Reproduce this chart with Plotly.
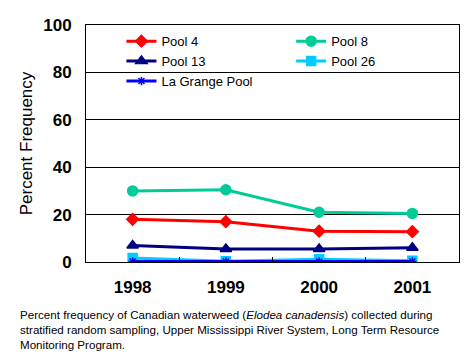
import plotly.graph_objects as go

years = ["1998", "1999", "2000", "2001"]
pool4 = [18.0, 17.0, 13.0, 12.8]
pool8 = [30.0, 30.5, 21.0, 20.5]
pool13 = [7.0, 5.5, 5.5, 6.0]
pool26 = [1.7, 0.3, 1.2, 0.5]
lagrange = [0.2, 0.2, 0.2, 0.2]

y_ticks = [0, 20, 40, 60, 80, 100]

series = [
    ("Pool 4", pool4, "#FF0000", "diamond", 9, "legend"),
    ("Pool 8", pool8, "#00CC99", "circle", 10, "legend2"),
    ("Pool 13", pool13, "#000080", "triangle-up", 10, "legend"),
    ("Pool 26", pool26, "#00CCFF", "square", 9, "legend2"),
    ("La Grange Pool", lagrange, "#0000FF", "asterisk-open", 7, "legend"),
]

fig = go.Figure()
for name, vals, color, sym, size, lg in series:
    fig.add_trace(go.Scatter(
        x=years, y=vals, name=name, mode="lines+markers",
        line=dict(color=color, width=3),
        marker=dict(symbol=sym, size=size, color=color,
                    line=dict(color=color, width=1.5)),
        legend=lg,
    ))

font = "Liberation Sans, Arial, sans-serif"
fig.update_layout(
    width=460, height=352,
    margin=dict(l=78, r=9, t=16.5, b=98, autoexpand=False),
    paper_bgcolor="white", plot_bgcolor="white",
    font=dict(family=font, color="black"),
    showlegend=True,
    legend=dict(x=0.095, y=0.995, xanchor="left", yanchor="top",
                bgcolor="rgba(0,0,0,0)", font=dict(size=13),
                itemwidth=30, tracegroupgap=0),
    legend2=dict(x=0.55, y=0.995, xanchor="left", yanchor="top",
                 bgcolor="rgba(0,0,0,0)", font=dict(size=13),
                 itemwidth=30, tracegroupgap=0),
    xaxis=dict(type="category", tickson="boundaries", ticks="inside",
               ticklen=5, tickcolor="black", showgrid=False,
               showline=True, linecolor="black", linewidth=1, mirror=True,
               tickfont=dict(size=17, weight="bold"), ticklabelstandoff=10,
               range=[-0.5, 3.5]),
    yaxis=dict(range=[0, 100], tickvals=y_ticks, showgrid=True,
               gridcolor="black", gridwidth=1, zeroline=False,
               showline=True, linecolor="black", linewidth=1, mirror=True,
               ticks="", tickfont=dict(size=17, weight="bold"),
               ticklabelstandoff=10,
               title=dict(text="Percent Frequency", font=dict(size=17),
                          standoff=6)),
)

fig.add_annotation(
    text="Percent frequency of Canadian waterweed (<i>Elodea canadensis</i>) collected during<br>"
         "stratified random sampling, Upper Mississippi River System, Long Term Resource<br>"
         "Monitoring Program.",
    xref="paper", yref="paper", x=-0.182, y=-0.187, xanchor="left", yanchor="top",
    align="left", showarrow=False, font=dict(size=11.6, family=font),
)

fig.write_html("out.html")
